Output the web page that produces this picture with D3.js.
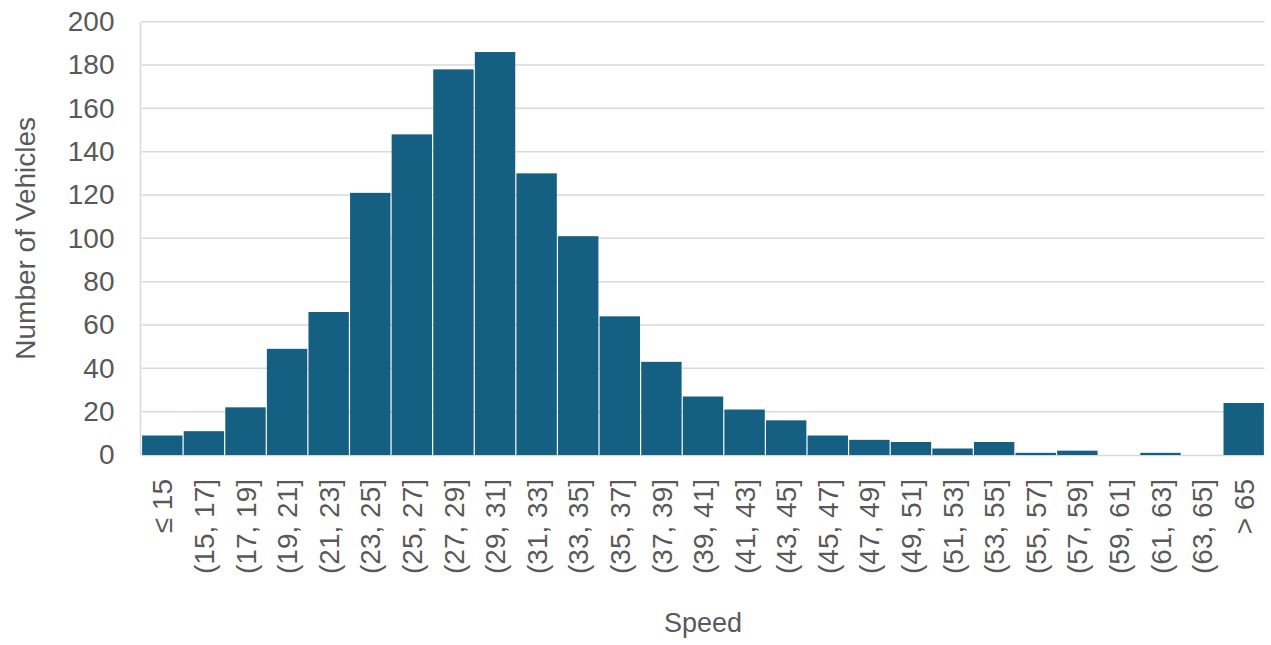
<!DOCTYPE html>
<html>
<head>
<meta charset="utf-8">
<script src="https://cdn.jsdelivr.net/npm/d3@7"></script>
<style>
  html, body { margin: 0; padding: 0; background: #ffffff; }
  svg { display: block; }
  text { font-family: "Liberation Sans", Arial, sans-serif; fill: #595959; }
</style>
</head>
<body>
<svg id="chart" width="1271" height="645"></svg>
<script>
// ---- Data ----
const categories = ["≤ 15", "(15, 17]", "(17, 19]", "(19, 21]", "(21, 23]", "(23, 25]", "(25, 27]",
  "(27, 29]", "(29, 31]", "(31, 33]", "(33, 35]", "(35, 37]", "(37, 39]", "(39, 41]", "(41, 43]",
  "(43, 45]", "(45, 47]", "(47, 49]", "(49, 51]", "(51, 53]", "(53, 55]", "(55, 57]", "(57, 59]",
  "(59, 61]", "(61, 63]", "(63, 65]", "> 65"];
const counts = [9, 11, 22, 49, 66, 121, 148, 178, 186, 130, 101, 64, 43, 27, 21, 16, 9, 7, 6, 3, 6, 1, 2, 0, 1, 0, 24];
const yTicks = [0, 20, 40, 60, 80, 100, 120, 140, 160, 180, 200];
const xTitle = "Speed";
const yTitle = "Number of Vehicles";

// ---- Layout ----
const svg = d3.select("#chart");
const plotLeft = 141.5, plotRight = 1264.5, plotTop = 21.7, plotBottom = 455;

const x = d3.scaleBand().domain(categories).range([plotLeft, plotRight]).padding(0);
const y = d3.scaleLinear().domain([0, 200]).range([plotBottom, plotTop]);

// gridlines
svg.append("g")
  .selectAll("line")
  .data(yTicks.filter(d => d > 0))
  .join("line")
  .attr("x1", plotLeft).attr("x2", plotRight)
  .attr("y1", d => y(d)).attr("y2", d => y(d))
  .attr("stroke", "#d9d9d9").attr("stroke-width", 1.5);

// left axis line
svg.append("line")
  .attr("x1", plotLeft - 1).attr("x2", plotLeft - 1)
  .attr("y1", plotTop).attr("y2", plotBottom)
  .attr("stroke", "#d9d9d9").attr("stroke-width", 1.5);

// bottom baseline
svg.append("line")
  .attr("x1", plotLeft).attr("x2", plotRight)
  .attr("y1", plotBottom + 0.5).attr("y2", plotBottom + 0.5)
  .attr("stroke", "#d9d9d9").attr("stroke-width", 1.5);

// bars (thin white gaps between adjacent bars)
svg.append("g")
  .selectAll("rect")
  .data(categories.map((c, i) => ({ c, v: counts[i] })))
  .join("rect")
  .attr("x", d => x(d.c) + 0.6)
  .attr("width", x.bandwidth() - 1.2)
  .attr("y", d => y(d.v))
  .attr("height", d => plotBottom - y(d.v))
  .attr("fill", "#156082");

// y axis
const yAxis = d3.axisLeft(y).tickValues(yTicks).tickSize(0).tickPadding(0);
const gy = svg.append("g").attr("transform", `translate(${plotLeft - 27},0)`).call(yAxis);
gy.select(".domain").remove();
gy.selectAll("text")
  .attr("font-size", 28)
  .attr("fill", "#595959")
  .attr("font-family", "Liberation Sans, Arial, sans-serif");

// x axis
const xAxis = d3.axisBottom(x).tickSize(0).tickPadding(0);
const gx = svg.append("g").attr("transform", `translate(0,${plotBottom})`).call(xAxis);
gx.select(".domain").remove();
gx.selectAll("text")
  .attr("font-size", 28)
  .attr("fill", "#595959")
  .attr("font-family", "Liberation Sans, Arial, sans-serif")
  .attr("text-anchor", "end")
  .attr("transform", "rotate(-90)")
  .attr("x", -24)
  .attr("y", 0)
  .attr("dy", "0.36em");

// axis titles
svg.append("text")
  .attr("x", (plotLeft + plotRight) / 2)
  .attr("y", 632)
  .attr("text-anchor", "middle")
  .attr("font-size", 27)
  .text(xTitle);

svg.append("text")
  .attr("transform", `translate(35,${(plotTop + plotBottom) / 2}) rotate(-90)`)
  .attr("text-anchor", "middle")
  .attr("font-size", 28)
  .text(yTitle);
</script>
</body>
</html>
